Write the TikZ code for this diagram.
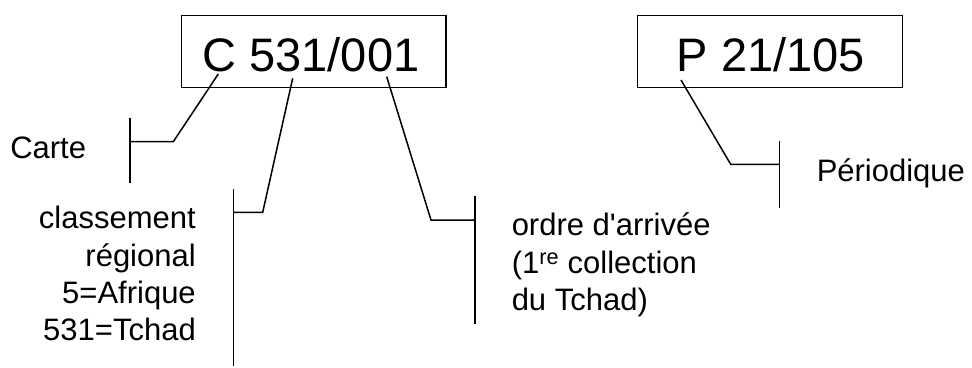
\documentclass[tikz,border=0pt]{standalone}
\usepackage{fontspec}
\setmainfont{Liberation Sans}
\newfontfamily\lsans{Liberation Sans}
\begin{document}
\begin{tikzpicture}[x=1pt,y=-1pt,line width=1.5pt,
  big/.style={font=\lsans\fontsize{47}{56}\selectfont,inner sep=0,anchor=base},
  lblw/.style={font=\lsans\fontsize{31}{37}\selectfont,inner sep=0,anchor=base west},
  lble/.style={font=\lsans\fontsize{31}{37}\selectfont,inner sep=0,anchor=base east},
  frame/.style={draw,minimum width=#1,minimum height=72.4pt,inner sep=0}]
\useasboundingbox (0,0) rectangle (972,367);
% boxes
\node[frame=264.3pt] (box1) at (313.85,51.5) {};
\node[big] (code1) at (311,71.7) {C 531/001};
\node[frame=265pt] (box2) at (770.2,51.5) {};
\node[big] (code2) at (770.8,71.7) {P 21/105};
% labels
\node[lblw] (carte) at (9.5,158) {Carte};
\node[lble] (cl1) at (196.5,228.3) {classement};
\node[lble] (cl2) at (196.5,266.7) {régional};
\node[lble] (cl3) at (196.5,303.3) {5=Afrique};
\node[lble] (cl4) at (196.5,340) {531=Tchad};
\node[lblw] (or1) at (511,235.7) {ordre d'arrivée};
\node[lblw] (or2) at (511,273.3) {(1\textsuperscript{re} collection};
\node[lblw] (or3) at (511,310) {du Tchad)};
\node[lblw] (per) at (816,181.7) {Périodique};
% connector points
\coordinate (c1a) at (218.3,74);
\coordinate (c1b) at (173.3,141.7);
\coordinate (c1c) at (130,141.7);
\coordinate (b1t) at (130,117.7);
\coordinate (b1b) at (130,183.3);
\coordinate (c2a) at (292.7,78.3);
\coordinate (c2b) at (262.7,212.3);
\coordinate (c2c) at (233.3,212.3);
\coordinate (b2t) at (233.3,189);
\coordinate (b2b) at (233.3,365.7);
\coordinate (c3a) at (386.7,76.7);
\coordinate (c3b) at (431,220);
\coordinate (c3c) at (475,220);
\coordinate (b3t) at (475,195.7);
\coordinate (b3b) at (475,324);
\coordinate (c4a) at (681,80);
\coordinate (c4b) at (730.7,164.3);
\coordinate (c4c) at (779.3,164.3);
\coordinate (b4t) at (779.3,140.7);
\coordinate (b4b) at (779.3,207.7);
% connectors
\draw (c1a) -- (c1b) -- (c1c);
\draw (b1t) -- (b1b);
\draw (c2a) -- (c2b) -- (c2c);
\draw (b2t) -- (b2b);
\draw (c3a) -- (c3b) -- (c3c);
\draw (b3t) -- (b3b);
\draw (c4a) -- (c4b) -- (c4c);
\draw (b4t) -- (b4b);
\end{tikzpicture}
\end{document}
